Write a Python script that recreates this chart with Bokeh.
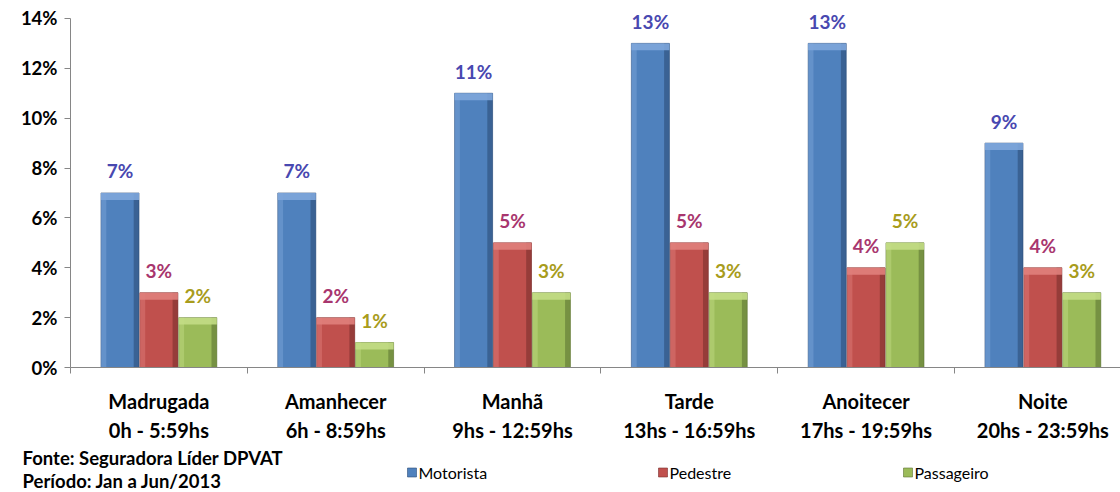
from bokeh.plotting import figure
from bokeh.models import Range1d, FixedTicker
from bokeh.layouts import column
from bokeh.embed import file_html
from bokeh.resources import INLINE
from bokeh.core.properties import value

# ---- data ----
category_labels = [
    "Madrugada\n0h - 5:59hs",
    "Amanhecer\n6h - 8:59hs",
    "Manhã\n9hs - 12:59hs",
    "Tarde\n13hs - 16:59hs",
    "Anoitecer\n17hs - 19:59hs",
    "Noite\n20hs - 23:59hs",
]
series_names = ["Motorista", "Pedestre", "Passageiro"]
motorista = [7, 7, 11, 13, 13, 9]
pedestre = [3, 2, 5, 5, 4, 4]
passageiro = [2, 1, 3, 3, 5, 3]
y_ticks = [0, 2, 4, 6, 8, 10, 12, 14]
footer_lines = ["Fonte: Seguradora  Líder DPVAT", "Período: Jan a Jun/2013"]

# ---- style ----
series_values = [motorista, pedestre, passageiro]
fill_colors = ["#4F81BD", "#C0504D", "#9BBB59"]
light_colors = ["#7EA6DA", "#E07F7C", "#C3DD85"]
dark_colors = ["#2D4E78", "#7A2F2D", "#5E7434"]
label_colors = ["#4848B0", "#A8366E", "#A89C1C"]
FONT = "Lato"
W = 1120
H_MAIN, H_FOOT = 444, 48
BAR_W = 0.215
OFFS = [-0.22, 0.0, 0.22]
GRAY = "#868686"

p = figure(width=W, height=H_MAIN, x_range=Range1d(0, 5.939), y_range=Range1d(0, 14.72),
           output_backend="svg", toolbar_location=None,
           min_border_left=70, min_border_right=0, min_border_top=0, min_border_bottom=75)
p.outline_line_color = None
p.grid.visible = False
p.frame_align = False

centers = [i + 0.5 for i in range(len(category_labels))]
for s in range(3):
    xs = [c + OFFS[s] for c in centers]
    vals = series_values[s]
    p.vbar(x=xs, top=vals, bottom=0, width=BAR_W, fill_color=fill_colors[s],
           line_color=dark_colors[s], line_width=0.6)
    # bevel decoration
    bw = 0.03
    p.quad(left=[x - BAR_W / 2 for x in xs], right=[x - BAR_W / 2 + bw for x in xs],
           top=vals, bottom=[0] * len(vals), fill_color=light_colors[s], fill_alpha=0.45, line_color=None)
    p.quad(left=[x + BAR_W / 2 - bw for x in xs], right=[x + BAR_W / 2 for x in xs],
           top=vals, bottom=[0] * len(vals), fill_color=dark_colors[s], fill_alpha=0.6, line_color=None)
    p.quad(left=[x - BAR_W / 2 for x in xs], right=[x + BAR_W / 2 for x in xs],
           top=vals, bottom=[v - 0.28 for v in vals], fill_color=light_colors[s], fill_alpha=0.9, line_color=None)
    p.text(x=xs, y=vals, text=[f"{v}%" for v in vals], y_offset=-22,
           text_align="center", text_baseline="middle",
           text_font=value(FONT), text_font_style="bold", text_font_size="19px",
           text_color=label_colors[s])

# y axis
ya = p.yaxis[0]
ya.ticker = FixedTicker(ticks=y_ticks, minor_ticks=[])
ya.major_label_overrides = {t: f"{t}%" for t in y_ticks}
ya.bounds = (0, 14)
ya.axis_line_color = GRAY
ya.major_tick_line_color = GRAY
ya.major_tick_out = 6
ya.major_tick_in = 0
ya.minor_tick_line_color = None
ya.major_label_text_font = FONT
ya.major_label_text_font_style = "bold"
ya.major_label_text_font_size = "18.5px"
ya.major_label_text_color = "#000000"
ya.major_label_standoff = 7

# x axis
xa = p.xaxis[0]
xa.ticker = FixedTicker(ticks=centers, minor_ticks=list(range(len(category_labels) + 1)))
xa.major_label_overrides = {c: lab for c, lab in zip(centers, category_labels)}
xa.axis_line_color = GRAY
xa.major_tick_line_color = None
xa.major_tick_out = 0
xa.major_tick_in = 0
xa.minor_tick_line_color = GRAY
xa.minor_tick_out = 6
xa.minor_tick_in = 0
xa.major_label_text_font = FONT
xa.major_label_text_font_style = "bold"
xa.major_label_text_font_size = "20px"
xa.major_label_text_color = "#000000"
xa.major_label_text_line_height = 1.21
xa.major_label_standoff = 15

# footer figure (frame covers the whole footer, units = pixels)
f = figure(width=W, height=H_FOOT, x_range=Range1d(0, W), y_range=Range1d(0, H_FOOT),
           output_backend="svg", toolbar_location=None, min_border=0,
           x_axis_location=None, y_axis_location=None)
f.outline_line_color = None
f.grid.visible = False
f.frame_align = False
f.text(x=[22, 22], y=[35, 12], text=footer_lines, text_align="left", text_baseline="middle",
       text_font=value(FONT), text_font_style="bold", text_font_size="18.5px", text_color="#000000")
leg_x = [407, 658, 903]
f.rect(x=[x + 4.5 for x in leg_x], y=[20] * 3, width=9, height=9,
       fill_color=fill_colors, line_color=dark_colors, line_width=0.6)
f.text(x=[x + 11 for x in leg_x], y=[20] * 3, text=series_names, text_align="left",
       text_baseline="middle", text_font=value(FONT), text_font_size="16px", text_color="#000000")

layout = column(p, f, spacing=0)
open("out.html", "w").write(file_html(layout, INLINE))
